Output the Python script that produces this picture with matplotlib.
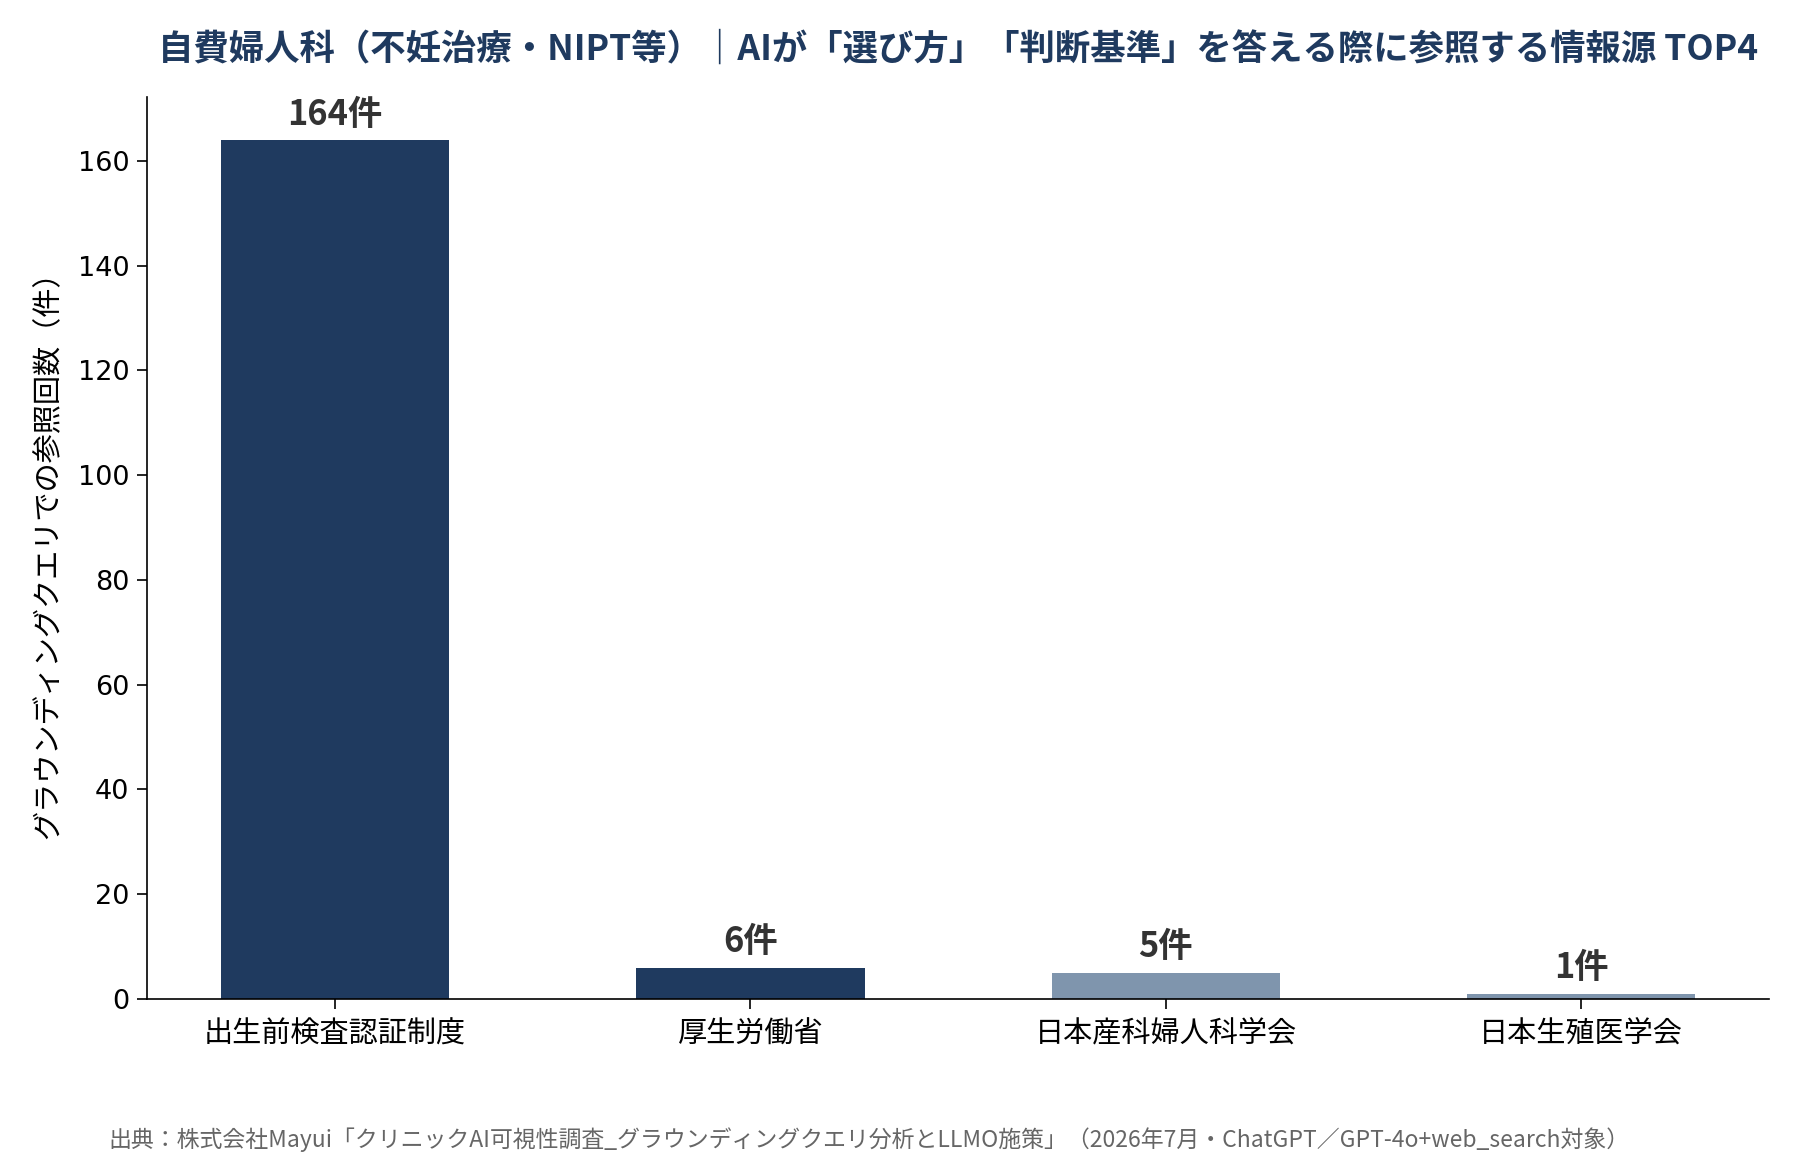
import matplotlib
matplotlib.use("Agg")
import matplotlib.pyplot as plt

plt.rcParams['font.family'] = ['Noto Sans CJK JP', 'DejaVu Sans']

# data
sources = ["出生前検査認証制度", "厚生労働省", "日本産科婦人科学会", "日本生殖医学会"]
counts = [164, 6, 5, 1]
bar_colors = ["#1f3a5f", "#1f3a5f", "#7f95ad", "#7f95ad"]

title = "自費婦人科（不妊治療・NIPT等）｜AIが「選び方」「判断基準」を答える際に参照する情報源 TOP4"
ylabel = "グラウンディングクエリでの参照回数（件）"
footnote = "出典：株式会社Mayui「クリニックAI可視性調査_グラウンディングクエリ分析とLLMO施策」（2026年7月・ChatGPT／GPT-4o+web_search対象）"

fig = plt.figure(figsize=(12, 1160 / 150), dpi=150)
ax = fig.add_axes([0.0817, 0.1388, 0.9011, 0.7776])

x = range(len(sources))
bars = ax.bar(x, counts, width=0.55, color=bar_colors)

for b, v in zip(bars, counts):
    ax.annotate(f"{v}件", (b.get_x() + b.get_width() / 2, v),
                xytext=(0, 4), textcoords="offset points",
                ha="center", va="bottom", fontsize=16.5, fontweight="bold",
                color="#333333")

ax.set_xticks(list(x))
ax.set_xticklabels(sources, fontsize=14)
ax.tick_params(axis="x", pad=5)
ax.tick_params(axis="y", labelsize=13)
for t in ax.get_yticklabels():
    t.set_family("DejaVu Sans")
ax.tick_params(length=5, width=0.8)
ax.set_ylim(0, 164 * 1.05)
ax.set_ylabel(ylabel, fontsize=14, labelpad=7)

for s in ["top", "right"]:
    ax.spines[s].set_visible(False)

fig.text(0.532, 0.958, title, ha="center", va="center", fontsize=17,
         fontweight="bold", color="#1f3a5f")
fig.text(0.060, 0.0175, footnote, ha="left", va="center", fontsize=11,
         color="#666666")

fig.savefig("out.png", dpi=150)
